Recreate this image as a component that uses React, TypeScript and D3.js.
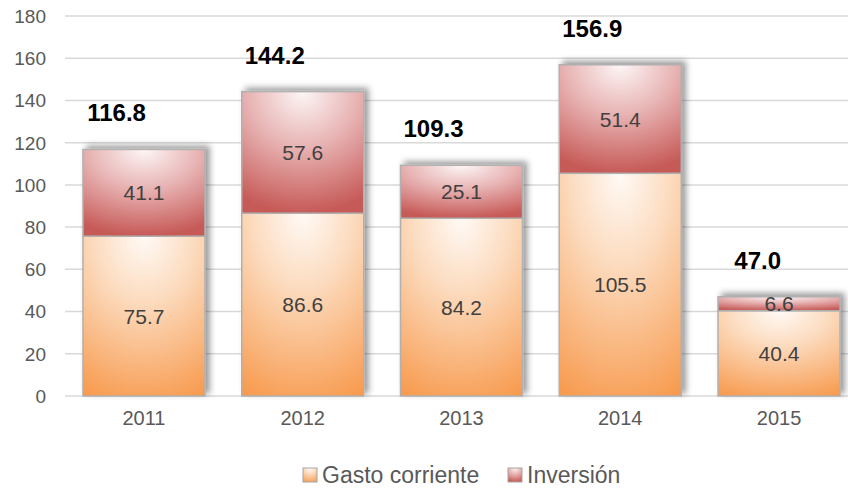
import React from "react";
import * as d3 from "d3";

const years = ["2011", "2012", "2013", "2014", "2015"];
const gasto = [75.7, 86.6, 84.2, 105.5, 40.4];
const inversion = [41.1, 57.6, 25.1, 51.4, 6.6];
const totals = [116.8, 144.2, 109.3, 156.9, 47.0];
const yTicks = [0, 20, 40, 60, 80, 100, 120, 140, 160, 180];
const seriesNames = ["Gasto corriente", "Inversión"];

const W = 848;
const H = 489;

export default function App() {
  const x = d3
    .scaleBand<string>()
    .domain(years)
    .range([64.6, 858.4])
    .paddingInner(0.2315)
    .paddingOuter(0.1157);
  const y = d3.scaleLinear().domain([0, 180]).range([396, 16]);
  const font = "Liberation Sans, Arial, sans-serif";
  const bw = x.bandwidth();

  return (
    <div style={{ position: "fixed", left: 0, top: 0, width: W, height: H, background: "#fff" }}>
      <svg width={W} height={H} style={{ display: "block" }}>
        <defs>
          <radialGradient id="gGasto" cx="50%" cy="0%" r="115%" fx="50%" fy="0%">
            <stop offset="0%" stopColor="#fffaf6" />
            <stop offset="35%" stopColor="#fcdcc0" />
            <stop offset="100%" stopColor="#f79545" />
          </radialGradient>
          <radialGradient id="gInv" cx="50%" cy="0%" r="100%" fx="50%" fy="0%">
            <stop offset="0%" stopColor="#fdf6f6" />
            <stop offset="45%" stopColor="#e8b4b4" />
            <stop offset="100%" stopColor="#c65a57" />
          </radialGradient>
          <filter id="shadow" x="-10%" y="-20%" width="130%" height="140%">
            <feDropShadow dx="4" dy="-3" stdDeviation="3" floodColor="#000" floodOpacity="0.4" />
          </filter>
        </defs>

        {yTicks.map((t) => (
          <line key={"g" + t} x1={65} x2={W} y1={y(t)} y2={y(t)} stroke="#d9d9d9" strokeWidth={1.5} />
        ))}

        {yTicks.map((t) => (
          <text
            key={"yt" + t}
            x={46}
            y={y(t)}
            dy="0.36em"
            textAnchor="end"
            fontFamily={font}
            fontSize={19}
            fill="#595959"
          >
            {t}
          </text>
        ))}

        {years.map((yr, i) => {
          const x0 = x(yr) as number;
          const g0 = y(0);
          const g1 = y(gasto[i]);
          const i1 = y(gasto[i] + inversion[i]);
          return (
            <g key={"b" + yr}>
              <g filter="url(#shadow)">
                <rect x={x0} y={g1} width={bw} height={g0 - g1} fill="url(#gGasto)" stroke="#b0b0b0" strokeWidth={1.5} />
                <rect x={x0} y={i1} width={bw} height={g1 - i1} fill="url(#gInv)" stroke="#b0b0b0" strokeWidth={1.5} />
              </g>
              <text
                x={x0 + bw / 2}
                y={(g0 + g1) / 2}
                dy="0.36em"
                textAnchor="middle"
                fontFamily={font}
                fontSize={21}
                fill="#404040"
              >
                {gasto[i].toFixed(1)}
              </text>
              <text
                x={x0 + bw / 2}
                y={(g1 + i1) / 2}
                dy="0.36em"
                textAnchor="middle"
                fontFamily={font}
                fontSize={21}
                fill="#404040"
              >
                {inversion[i].toFixed(1)}
              </text>
              <text
                x={x0 + bw / 2 + 2}
                y={y(totals[i]) - 28}
                textAnchor="end"
                fontFamily={font}
                fontSize={24}
                fontWeight="bold"
                fill="#000"
              >
                {totals[i].toFixed(1)}
              </text>
              <text
                x={x0 + bw / 2}
                y={425}
                textAnchor="middle"
                fontFamily={font}
                fontSize={20}
                fill="#595959"
              >
                {yr}
              </text>
            </g>
          );
        })}

        <g>
          <rect x={303} y={468} width={14} height={14} fill="url(#gGasto)" stroke="#a6a6a6" strokeWidth={1} />
          <text x={322} y={483} fontFamily={font} fontSize={23} fill="#595959">
            {seriesNames[0]}
          </text>
          <rect x={508} y={468} width={14} height={14} fill="url(#gInv)" stroke="#a6a6a6" strokeWidth={1} />
          <text x={527} y={483} fontFamily={font} fontSize={23} fill="#595959">
            {seriesNames[1]}
          </text>
        </g>
      </svg>
    </div>
  );
}
